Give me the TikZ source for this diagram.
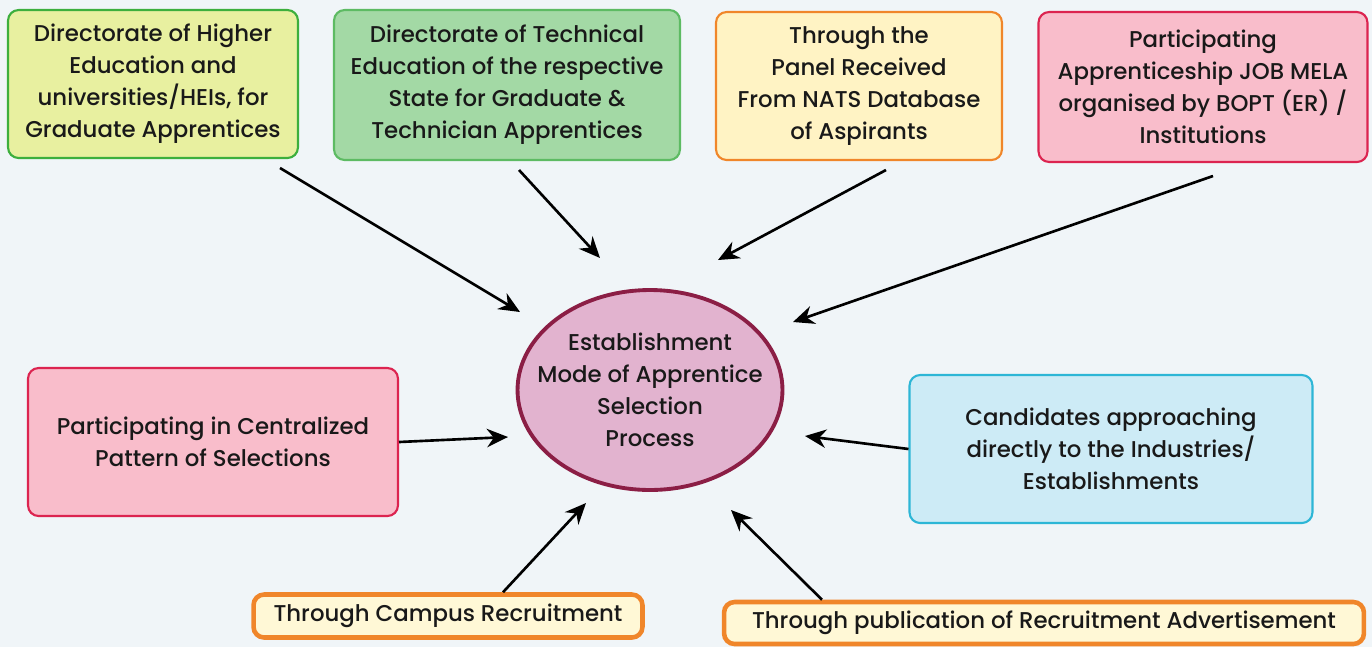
\documentclass[tikz,border=0pt]{standalone}
\usepackage{fontspec}
\setmainfont{Poppins}[UprightFont = * Medium]
\usepackage{tikz}
\usetikzlibrary{arrows.meta,shapes.geometric}

\definecolor{bgcol}{HTML}{F0F5F8}
\definecolor{ygfill}{HTML}{E8F0A0}
\definecolor{ygline}{HTML}{3DAF3D}
\definecolor{grfill}{HTML}{A3D9A5}
\definecolor{grline}{HTML}{5DBB63}
\definecolor{yefill}{HTML}{FFF3C4}
\definecolor{orline}{HTML}{F0862A}
\definecolor{pkfill}{HTML}{F9BDCB}
\definecolor{pkline}{HTML}{DC2450}
\definecolor{elfill}{HTML}{E2B3CF}
\definecolor{elline}{HTML}{8B1E45}
\definecolor{blfill}{HTML}{CDEBF6}
\definecolor{blline}{HTML}{2DB6D6}
\definecolor{sbfill}{HTML}{FFF8D6}

\begin{document}
\begin{tikzpicture}[
  x=0.02cm, y=-0.02cm,
  every node/.style = {align=center, font=\fontsize{13}{18.2}\selectfont, text=black!90},
  modebox/.style = {shape=rectangle, rounded corners=6pt, line width=1.2pt, inner sep=0pt},
  thinbox/.style = {shape=rectangle, rounded corners=6pt, line width=2.6pt, inner sep=0pt},
  feed/.style = {-{Stealth[length=12pt,width=10.5pt]}, line width=1.5pt}
]
  \fill[bgcol] (0,0) rectangle (1372,647);
  \useasboundingbox (0,0) rectangle (1372,647);

  \node[modebox, fill=ygfill, draw=ygline, minimum width=5.8cm, minimum height=2.96cm] (higher) at (153,84)
    {Directorate of Higher\\Education and\\universities/HEIs, for\\Graduate Apprentices};
  \node[modebox, fill=grfill, draw=grline, minimum width=6.92cm, minimum height=3cm] (technical) at (507,85)
    {Directorate of Technical\\Education of the respective\\State for Graduate \&\\Technician Apprentices};
  \node[modebox, fill=yefill, draw=orline, minimum width=5.72cm, minimum height=2.96cm] (nats) at (859,86)
    {Through the\\Panel Received\\From NATS Database\\of Aspirants};
  \node[modebox, fill=pkfill, draw=pkline, minimum width=6.58cm, minimum height=3cm] (mela) at (1203,87)
    {Participating\\Apprenticeship JOB MELA\\organised by BOPT (ER) /\\Institutions};
  \node[modebox, fill=pkfill, draw=pkline, minimum width=7.4cm, minimum height=2.96cm] (central) at (213,442)
    {Participating in Centralized\\Pattern of Selections};
  \node[modebox, fill=blfill, draw=blline, minimum width=8.06cm, minimum height=2.96cm] (direct) at (1111,449)
    {Candidates approaching\\directly to the Industries/\\Establishments};
  \node[shape=ellipse, fill=elfill, draw=elline, line width=2.2pt, minimum width=5.3cm, minimum height=4cm,
        inner xsep=-0.5cm, inner ysep=0pt] (mode) at (650,390)
    {Establishment\\Mode of Apprentice\\Selection\\Process};
  \node[thinbox, fill=sbfill, draw=orline, minimum width=7.78cm, minimum height=0.86cm] (campus) at (448,616)
    {Through Campus Recruitment};
  \node[thinbox, fill=sbfill, draw=orline, minimum width=12.8cm, minimum height=0.84cm] (advert) at (1044,623)
    {Through publication of Recruitment Advertisement};

  \coordinate (h0) at (280,168);
  \coordinate (t0) at (519,170);
  \coordinate (n0) at (886,170);
  \coordinate (m0) at (1213,176);
  \coordinate (h1) at (520,312);
  \coordinate (t1) at (600,258);
  \coordinate (n1) at (718,260);
  \coordinate (m1) at (793,322);
  \coordinate (c1) at (508,437);
  \coordinate (d1) at (805,436);
  \coordinate (p1) at (586,503);
  \coordinate (a1) at (731,510);

  \draw[feed] (h0) -- (h1);
  \draw[feed] (t0) -- (t1);
  \draw[feed] (n0) -- (n1);
  \draw[feed] (m0) -- (m1);
  \draw[feed] (central.east) -- (c1);
  \draw[feed] (direct.west) -- (d1);
  \draw[feed] (campus.north -| 503,0) -- (p1);
  \draw[feed] (advert.north -| 822,0) -- (a1);
\end{tikzpicture}
\end{document}
